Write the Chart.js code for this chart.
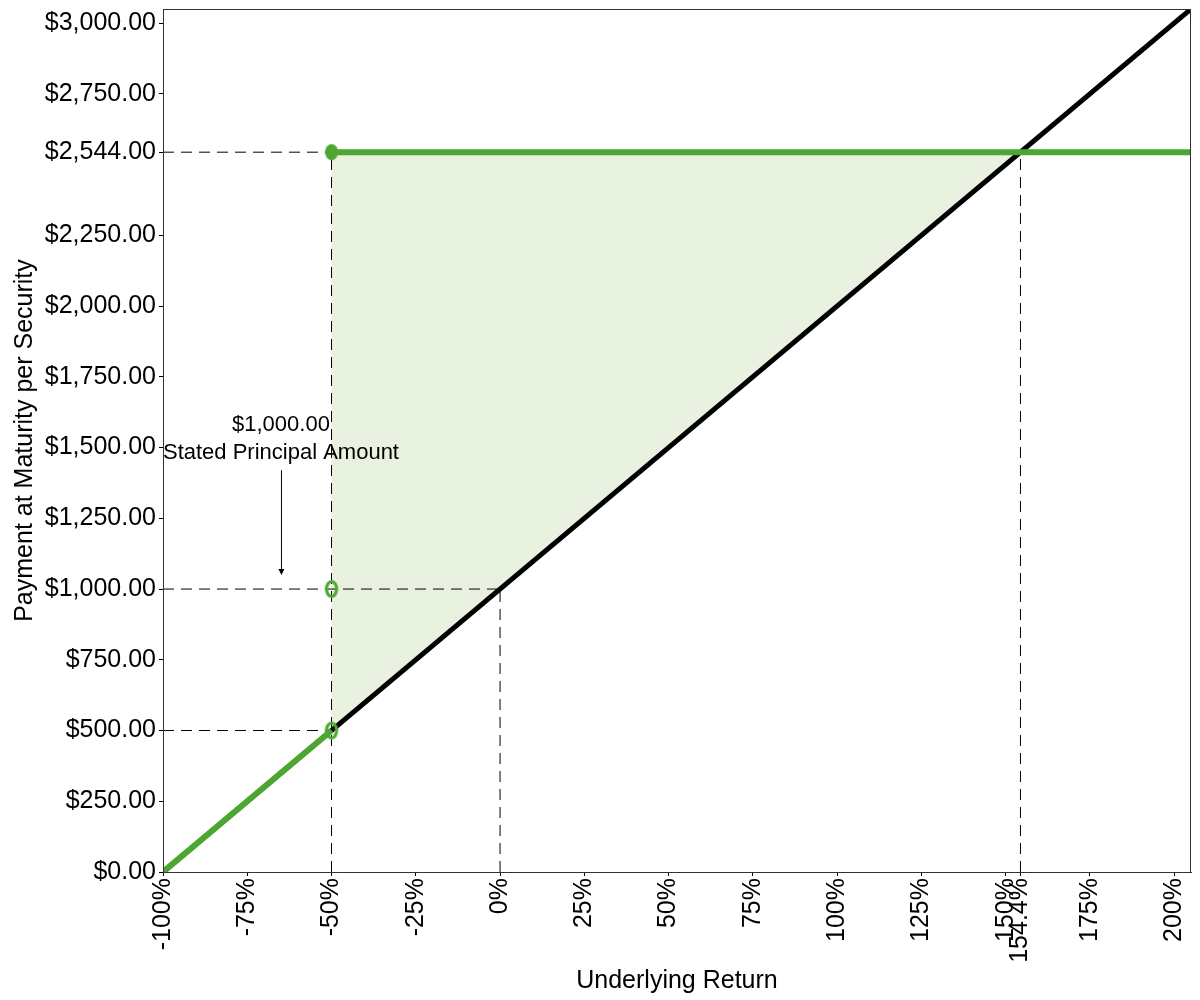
<!DOCTYPE html>
<html>
<head>
<meta charset="utf-8">
<script src="https://cdn.jsdelivr.net/npm/chart.js@4.4.1/dist/chart.umd.min.js"></script>
<style>
body { margin: 0; background: #fff; }
#wrap { width: 1200px; height: 1000px; }
</style>
</head>
<body>
<div id="wrap"><canvas id="payoffChart"></canvas></div>
<script>
// axis ranges and ticks
const xMin = -100, xMax = 205;
const yMin = 0, yMax = 3050;
const xTicks = [-100, -75, -50, -25, 0, 25, 50, 75, 100, 125, 150, 154.4, 175, 200];
const yTicks = [0, 250, 500, 750, 1000, 1250, 1500, 1750, 2000, 2250, 2544, 2750, 3000];

// series
const underlyingX = [-100, 205];
const underlyingY = [0, 3050];
const payoffLowX = [-100, -50];
const payoffLowY = [0, 500];
const payoffCapX = [-50, 205];
const payoffCapY = [2544, 2544];
const markerX = [-50, -50, -50];
const markerY = [2544, 1000, 500];
const markerFilled = [true, false, false];
const shadeX = [-50, 154.4, -50];
const shadeY = [500, 2544, 2544];

// dashed guide lines
const guideHY = [2544, 1000, 500];
const guideHEndX = [-50, 0, -50];
const guideVX = [-50, 0, 154.4];
const guideVTopY = [2544, 1000, 2544];

// annotation
const noteLines = ['$1,000.00', 'Stated Principal Amount'];
const noteX = -65;
const noteY = [1580, 1480];
const arrowFromY = 1420, arrowToY = 1050;

const green = 'rgb(78, 166, 50)';
const shadeColor = 'rgb(233, 242, 224)';
const fontFamily = '"Liberation Sans", Arial, sans-serif';

function toPoints(xs, ys) {
    return xs.map((x, i) => ({ x: x, y: ys[i] }));
}

function ellipseMarker(filled) {
    const c = document.createElement('canvas');
    c.width = 18;
    c.height = 22;
    const ctx = c.getContext('2d');
    ctx.beginPath();
    if (filled) {
        ctx.ellipse(9, 11, 6.5, 8, 0, 0, Math.PI * 2);
        ctx.fillStyle = green;
        ctx.fill();
    } else {
        ctx.ellipse(9, 11, 5, 7.5, 0, 0, Math.PI * 2);
        ctx.lineWidth = 3.2;
        ctx.strokeStyle = green;
        ctx.stroke();
    }
    return c;
}

const guideStyle = {
    borderColor: '#000',
    borderWidth: 1,
    borderDash: [11, 7],
    pointRadius: 0,
    showLine: true,
    fill: false,
    order: 4
};

const guideSets = [];
guideHY.forEach((yv, i) => {
    guideSets.push(Object.assign({ data: [{ x: xMin, y: yv }, { x: guideHEndX[i], y: yv }] }, guideStyle));
});
guideVX.forEach((xv, i) => {
    guideSets.push(Object.assign({ data: [{ x: xv, y: yMin }, { x: xv, y: guideVTopY[i] }] }, guideStyle));
});

const framePlugin = {
    id: 'frameAndNote',
    afterDatasetsDraw(chart) {
        const { ctx, chartArea: a, scales: { x, y } } = chart;
        ctx.save();
        ctx.strokeStyle = '#333';
        ctx.lineWidth = 1;
        ctx.strokeRect(a.left + 0.5, a.top + 0.5, a.right - a.left - 1, a.bottom - a.top);

        // Stated principal note
        const px = x.getPixelForValue(noteX);
        ctx.fillStyle = '#000';
        ctx.font = '22px ' + fontFamily;
        ctx.textAlign = 'center';
        ctx.textBaseline = 'middle';
        noteLines.forEach((t, i) => ctx.fillText(t, px, y.getPixelForValue(noteY[i])));
        const y0 = y.getPixelForValue(arrowFromY);
        const y1 = y.getPixelForValue(arrowToY);
        ctx.strokeStyle = '#000';
        ctx.beginPath();
        ctx.moveTo(px + 0.5, y0);
        ctx.lineTo(px + 0.5, y1 - 4);
        ctx.stroke();
        ctx.beginPath();
        ctx.moveTo(px - 2.5, y1 - 6);
        ctx.lineTo(px + 3.5, y1 - 6);
        ctx.lineTo(px + 0.5, y1);
        ctx.closePath();
        ctx.fill();
        ctx.restore();
    }
};

const markerStyles = markerFilled.map(f => ellipseMarker(f));

new Chart(document.getElementById('payoffChart'), {
    type: 'scatter',
    data: {
        datasets: [
            {
                label: 'Markers',
                data: toPoints(markerX, markerY),
                pointStyle: markerStyles,
                pointRadius: 8,
                showLine: false,
                order: 0
            },
            {
                label: 'Payoff low',
                data: toPoints(payoffLowX, payoffLowY),
                borderColor: green,
                borderWidth: 6,
                pointRadius: 0,
                showLine: true,
                order: 1
            },
            {
                label: 'Payoff cap',
                data: toPoints(payoffCapX, payoffCapY),
                borderColor: green,
                borderWidth: 6,
                pointRadius: 0,
                showLine: true,
                order: 1
            },
            {
                label: 'Underlying',
                data: toPoints(underlyingX, underlyingY),
                borderColor: '#000',
                borderWidth: 5,
                pointRadius: 0,
                showLine: true,
                order: 2
            },
            ...guideSets,
            {
                label: 'Shade',
                data: toPoints(shadeX, shadeY),
                borderWidth: 0,
                borderColor: 'rgba(0,0,0,0)',
                backgroundColor: shadeColor,
                pointRadius: 0,
                showLine: true,
                fill: 'shape',
                order: 5
            }
        ]
    },
    options: {
        responsive: true,
        maintainAspectRatio: false,
        animation: false,
        layout: {
            padding: { top: 5, right: 8, left: 0, bottom: 0 }
        },
        plugins: {
            legend: { display: false },
            tooltip: { enabled: false }
        },
        scales: {
            x: {
                type: 'linear',
                min: xMin,
                max: xMax,
                afterBuildTicks: scale => { scale.ticks = xTicks.map(v => ({ value: v })); },
                afterFit: scale => {
                    scale.height = 128;
                    scale.paddingLeft = 0;
                    scale.paddingRight = 0;
                },
                ticks: {
                    autoSkip: false,
                    minRotation: 90,
                    maxRotation: 90,
                    padding: 2,
                    color: '#000',
                    font: { family: fontFamily, size: 25 },
                    callback: v => v + '%'
                },
                grid: { drawOnChartArea: false, color: '#000', tickLength: 4 },
                border: { color: '#333' },
                title: {
                    display: true,
                    text: 'Underlying Return',
                    color: '#000',
                    font: { family: fontFamily, size: 25 },
                    padding: { bottom: 4 }
                }
            },
            y: {
                type: 'linear',
                min: yMin,
                max: yMax,
                afterBuildTicks: scale => { scale.ticks = yTicks.map(v => ({ value: v })); },
                afterFit: scale => {
                    scale.width = 163;
                    scale.paddingTop = 0;
                    scale.paddingBottom = 0;
                },
                ticks: {
                    autoSkip: false,
                    padding: 3,
                    color: '#000',
                    font: { family: fontFamily, size: 25 },
                    callback: v => '$' + v.toLocaleString('en-US', { minimumFractionDigits: 2, maximumFractionDigits: 2 })
                },
                grid: { drawOnChartArea: false, color: '#000', tickLength: 4 },
                border: { color: '#333' },
                title: {
                    display: true,
                    text: 'Payment at Maturity per Security',
                    color: '#000',
                    font: { family: fontFamily, size: 25 },
                    padding: { top: 10 }
                }
            }
        }
    },
    plugins: [framePlugin]
});
</script>
</body>
</html>
